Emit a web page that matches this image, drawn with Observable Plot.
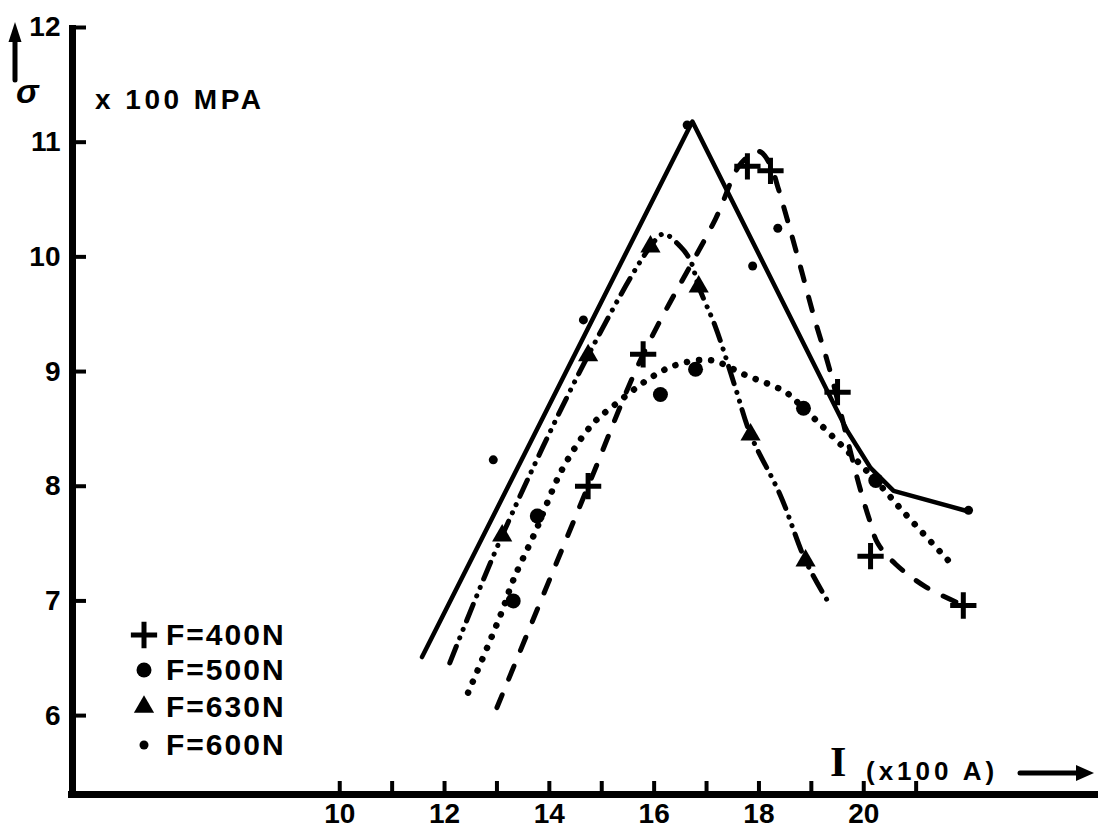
<!DOCTYPE html>
<html><head><meta charset="utf-8">
<script src="https://cdn.jsdelivr.net/npm/d3@7"></script>
<script src="https://cdn.jsdelivr.net/npm/@observablehq/plot@0.6"></script>
<style>
body{margin:0;background:#fff;}
#wrap{position:relative;width:1098px;height:832px;overflow:hidden;background:#fff;}
.t{position:absolute;font-family:"Liberation Sans",Arial,sans-serif;font-weight:bold;color:#000;white-space:nowrap;line-height:1;}
svg.ov{position:absolute;overflow:visible;}
</style></head><body><div id="wrap"></div>
<script>
// ---- axis ticks ----
const xTicks = [10, 11, 12, 13, 14, 15, 16, 17, 18, 19, 20, 21];
const xTickLabels = [10, 12, 14, 16, 18, 20];
const yTicks = [6, 7, 8, 9, 10, 11, 12];
const xDomain = [4.9, 24.48];
const yDomain = [5.312, 12];

// ---- F = 400N  (+, dashed line) ----
const f400PointX = [14.74, 15.79, 17.78, 18.22, 19.5, 20.13, 21.9];
const f400PointY = [8.0, 9.15, 10.79, 10.75, 8.82, 7.39, 6.96];
const f400CurveX = [13.0, 14.74, 15.79, 17.17, 17.65, 18.0, 18.22, 18.36, 18.74, 19.08, 19.33, 19.9, 20.1, 20.27, 20.61, 21.19, 21.91];
const f400CurveY = [6.07, 8.0, 9.15, 10.33, 10.81, 10.92, 10.8, 10.61, 10.0, 9.43, 9.05, 8.03, 7.72, 7.5, 7.32, 7.12, 6.96];

// ---- F = 500N  (filled circle, dotted line) ----
const f500PointX = [13.31, 13.77, 16.12, 16.79, 18.85, 20.23];
const f500PointY = [7.0, 7.74, 8.8, 9.02, 8.68, 8.05];
const f500CurveX = [12.45, 13.08, 13.31, 13.73, 14.26, 14.82, 15.22, 15.98, 16.44, 17.07, 17.74, 18.51, 18.85, 19.37, 20.23, 20.75, 21.72];
const f500CurveY = [6.2, 6.89, 7.18, 7.6, 8.16, 8.54, 8.7, 8.96, 9.06, 9.1, 8.97, 8.82, 8.68, 8.45, 8.05, 7.78, 7.3];

// ---- F = 630N  (triangle, dash-dot-dot line) ----
const f630PointX = [13.1, 14.74, 15.93, 16.85, 17.84, 18.89];
const f630PointY = [7.57, 9.14, 10.09, 9.74, 8.45, 7.35];
const f630CurveX = [12.1, 13.1, 14.74, 15.93, 16.18, 16.5, 16.69, 16.85, 17.17, 17.55, 17.84, 18.41, 18.89, 19.31];
const f630CurveY = [6.46, 7.57, 9.14, 10.09, 10.2, 10.09, 9.97, 9.74, 9.39, 8.86, 8.45, 7.92, 7.35, 7.0];

// ---- F = 600N  (small dot, solid line) ----
const f600PointX = [12.93, 14.65, 16.63, 17.88, 18.36, 22.0];
const f600PointY = [8.23, 9.45, 11.15, 9.92, 10.25, 7.79];
const f600CurveX = [11.57, 16.73, 19.69, 20.13, 20.57, 22.0];
const f600CurveY = [6.51, 11.18, 8.48, 8.16, 7.96, 7.78];

const legendLabels = ["F=400N", "F=500N", "F=630N", "F=600N"];

const pts = (xs, ys) => xs.map((x, i) => ({x, y: ys[i]}));
const FONT = "Liberation Sans, Arial, sans-serif";
const W = 1098, H = 832, ML = 72, MR = 0, MT = 27, MB = 38;
const PLUS_R = 8.5;

const chart = Plot.plot({
  width: W, height: H,
  marginLeft: ML, marginRight: MR, marginTop: MT, marginBottom: MB,
  x: {domain: xDomain, axis: null},
  y: {domain: yDomain, axis: null},
  style: {background: "white", overflow: "visible", fontFamily: FONT, fontSize: "28px", fontWeight: "bold", color: "black"},
  marks: [
    Plot.line(pts(f600CurveX, f600CurveY), {x: "x", y: "y", stroke: "black", strokeWidth: 4.5, strokeLinecap: "round", strokeLinejoin: "round"}),
    Plot.line(pts(f400CurveX, f400CurveY), {x: "x", y: "y", curve: "catmull-rom", stroke: "black", strokeWidth: 5, strokeDasharray: "14,17", strokeLinecap: "round"}),
    Plot.line(pts(f500CurveX, f500CurveY), {x: "x", y: "y", curve: "catmull-rom", stroke: "black", strokeWidth: 6.5, strokeDasharray: "0.1,12", strokeLinecap: "round"}),
    Plot.line(pts(f630CurveX, f630CurveY), {x: "x", y: "y", curve: "catmull-rom", stroke: "black", strokeWidth: 5, strokeDasharray: "18,9,0.1,9,0.1,9", strokeLinecap: "round"}),
    Plot.dot(pts(f400PointX, f400PointY), {x: "x", y: "y", symbol: "plus", r: PLUS_R, fill: "none", stroke: "black", strokeWidth: 5}),
    Plot.dot(pts(f500PointX, f500PointY), {x: "x", y: "y", symbol: "circle", r: 7.5, fill: "black"}),
    Plot.dot(pts(f630PointX, f630PointY), {x: "x", y: "y", symbol: "triangle", r: 7.5, fill: "black"}),
    Plot.dot(pts(f600PointX, f600PointY), {x: "x", y: "y", symbol: "circle", r: 4.5, fill: "black"}),
    // axes
    Plot.ruleX([xDomain[0]], {stroke: "black", strokeWidth: 7, insetTop: -2, insetBottom: -3}),
    Plot.ruleY([yDomain[0]], {stroke: "black", strokeWidth: 7, insetLeft: -4}),
    Plot.tickY(yTicks, {y: d => d, stroke: "black", strokeWidth: 4, insetRight: W - ML - MR - 14}),
    Plot.tickX(xTicks, {x: d => d, stroke: "black", strokeWidth: 4, insetTop: (H - MT - MB) - 13}),
    Plot.axisY({ticks: yTicks, label: null, tickSize: 0, tickPadding: 12, fontSize: 28, fontWeight: "bold", fontFamily: FONT, tickFormat: d => String(d)}),
    Plot.axisX({ticks: xTickLabels, label: null, tickSize: 0, tickPadding: 9, fontSize: 28, fontWeight: "bold", fontFamily: FONT, tickFormat: d => String(d)})
  ]
});

const wrap = document.getElementById("wrap");
chart.style.position = "absolute";
chart.style.left = "0px";
chart.style.top = "0px";
wrap.appendChild(chart);

function addText(txt, left, top, size, extra) {
  const d = document.createElement("div");
  d.className = "t";
  d.textContent = txt;
  d.style.left = left + "px";
  d.style.top = top + "px";
  d.style.fontSize = size + "px";
  if (extra) Object.assign(d.style, extra);
  wrap.appendChild(d);
  return d;
}
function addSvg(markup, left, top, w, h) {
  const ns = "http://www.w3.org/2000/svg";
  const s = document.createElementNS(ns, "svg");
  s.setAttribute("class", "ov");
  s.setAttribute("width", w); s.setAttribute("height", h);
  s.style.left = left + "px"; s.style.top = top + "px";
  s.innerHTML = markup;
  wrap.appendChild(s);
}

// y-axis title: arrow + sigma + unit
addSvg('<line x1="15" y1="80" x2="15" y2="36" stroke="black" stroke-width="5" stroke-linecap="round"/><path d="M15,22 L8.5,42 L21.5,42 Z" fill="black"/>', 0, 0, 40, 90);
addText("σ", 16, 74, 34, {fontStyle: "italic"});
addText("x 100 MPA", 95, 86, 28, {letterSpacing: "3.5px"});

// x-axis title
addText("I", 830, 741, 42, {fontFamily: '"Liberation Serif", serif'});
addText("(x100 A)", 866, 758, 26, {letterSpacing: "4px"});
addSvg('<line x1="2" y1="12" x2="62" y2="12" stroke="black" stroke-width="5" stroke-linecap="round"/><path d="M58,4 L76,12 L58,20 Z" fill="black"/>', 1018, 761, 80, 24);

// legend
const legendSymbols = [
  {type: d3.symbolPlus, r: PLUS_R, stroke: true},
  {type: d3.symbolCircle, r: 7.5},
  {type: d3.symbolTriangle, r: 7.5},
  {type: d3.symbolCircle, r: 4.5}
];
const legendRows = [635, 670, 707, 745];
legendLabels.forEach((lab, i) => {
  const s = legendSymbols[i];
  const p = d3.symbol(s.type, Math.PI * s.r * s.r)();
  const mk = s.stroke
    ? `<path transform="translate(15,15)" d="${p}" fill="none" stroke="black" stroke-width="5"/>`
    : `<path transform="translate(15,15)" d="${p}" fill="black"/>`;
  addSvg(mk, 129, legendRows[i] - 15, 30, 30);
  addText(lab, 166, legendRows[i] - 15, 30, {letterSpacing: "2px"});
});
</script>
</body></html>
